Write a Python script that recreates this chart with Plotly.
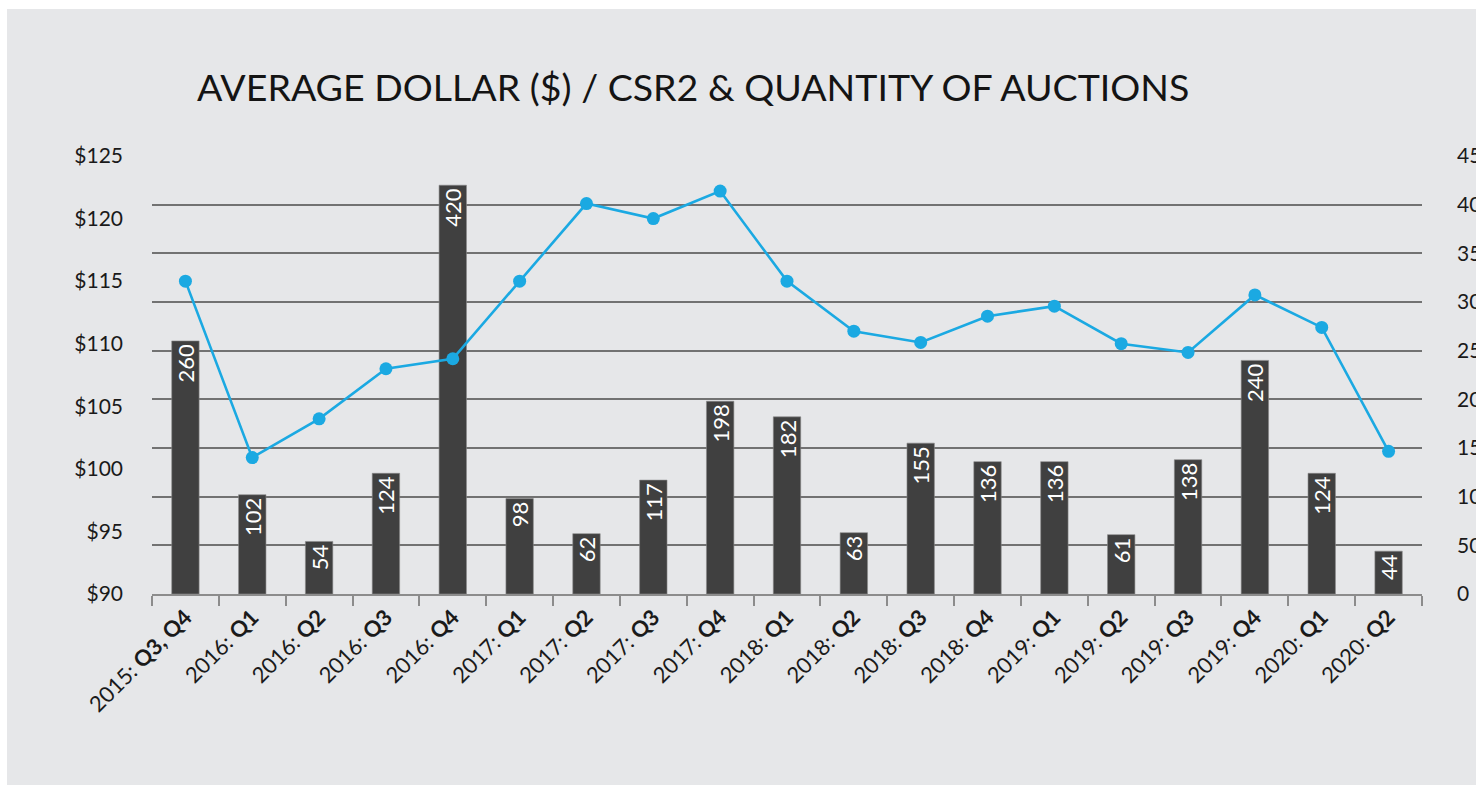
import plotly.graph_objects as go

# ---- data ----
years = ["2015", "2016", "2016", "2016", "2016", "2017", "2017", "2017", "2017",
         "2018", "2018", "2018", "2018", "2019", "2019", "2019", "2019", "2020", "2020"]
quarters = ["Q3, Q4", "Q1", "Q2", "Q3", "Q4", "Q1", "Q2", "Q3", "Q4",
            "Q1", "Q2", "Q3", "Q4", "Q1", "Q2", "Q3", "Q4", "Q1", "Q2"]
auctions = [260, 102, 54, 124, 420, 98, 62, 117, 198, 182, 63, 155, 136, 136, 61, 138, 240, 124, 44]
avg_dollar = [115.0, 100.9, 104.0, 108.0, 108.8, 115.0, 121.2, 120.0, 122.2,
              115.0, 111.0, 110.1, 112.2, 113.0, 110.0, 109.3, 113.9, 111.3, 101.4]
left_ticks = [90, 95, 100, 105, 110, 115, 120, 125]
left_tick_labels = ["$90", "$95", "$100", "$105", "$110", "$115", "$120", "$125"]
right_ticks = [0, 50, 100, 150, 200, 250, 300, 350, 400, 450]

title_text = "AVERAGE DOLLAR ($) / CSR2 & QUANTITY OF AUCTIONS"

categories = [f"{y}: {q}" for y, q in zip(years, quarters)]
tick_text = [f"{y}: <b>{q}</b>" for y, q in zip(years, quarters)]

FONT = "Lato"
BG = "#e6e7e9"
GRID = "#727272"
BAR = "#404040"
LINE = "#1ba9e2"

fig = go.Figure()

fig.add_trace(go.Bar(
    x=categories, y=auctions, yaxis="y",
    marker=dict(color=BAR, line=dict(color="#8a8a8a", width=0.6)),
    width=0.41,
    text=[str(v) for v in auctions],
    textposition="inside", insidetextanchor="end", textangle=-90,
    textfont=dict(color="white", size=22, family=FONT),
    constraintext="none",
    showlegend=False,
))

fig.add_trace(go.Scatter(
    x=categories, y=avg_dollar, yaxis="y2",
    mode="lines+markers",
    line=dict(color=LINE, width=2.6),
    marker=dict(color=LINE, size=13),
    showlegend=False,
))

W, H = 1476, 785
L, R, T, B = 152, 54, 156, 191
pw, ph = W - L - R, H - T - B

fig.update_layout(
    width=W, height=H,
    margin=dict(l=L, r=R, t=T, b=B, autoexpand=False),
    paper_bgcolor=BG, plot_bgcolor="rgba(0,0,0,0)",
    font=dict(family=FONT, color="#1a1a1a"),
    bargap=0.5,
    title=dict(text=title_text, x=197 / W, xanchor="left", y=1 - 88 / H, yanchor="middle",
               font=dict(family=FONT, size=37.5, color="#141414")),
    xaxis=dict(
        type="category", tickmode="array", tickvals=categories, ticktext=tick_text,
        tickangle=-45, tickfont=dict(size=22, color="#1a1a1a", family=FONT),
        showline=True, linecolor="#8c8c8c", linewidth=1.5,
        ticks="outside", tickson="boundaries", ticklen=10, tickcolor="#8c8c8c", tickwidth=1.5,
        showgrid=False, range=[-0.5, len(categories) - 0.5], automargin=False,
    ),
    yaxis=dict(
        side="right", range=[0, 450], tickmode="array", tickvals=right_ticks,
        showgrid=True, gridcolor=GRID, gridwidth=1.5, zeroline=False,
        tickfont=dict(size=21, color="#1a1a1a", family=FONT),
        ticklabelstandoff=34, ticks="", automargin=False,
    ),
    yaxis2=dict(
        side="left", overlaying="y", range=[90, 125], tickmode="array", tickvals=left_ticks,
        ticktext=left_tick_labels, showgrid=False, zeroline=False,
        tickfont=dict(size=21, color="#1a1a1a", family=FONT),
        ticklabelstandoff=28, ticks="", automargin=False,
    ),
)

# white border strips at the top and left of the image
fig.add_shape(type="rect", xref="paper", yref="paper",
              x0=-L / pw, x1=(-L + 7) / pw, y0=-B / ph, y1=(H - B) / ph,
              fillcolor="white", line_width=0, layer="below")
fig.add_shape(type="rect", xref="paper", yref="paper",
              x0=-L / pw, x1=(W - L) / pw, y0=(H - B - 9) / ph, y1=(H - B) / ph,
              fillcolor="white", line_width=0, layer="below")

fig.write_html("out.html", config={"displayModeBar": False},
               post_script="document.body.style.margin='0';document.body.style.overflow='hidden';")
